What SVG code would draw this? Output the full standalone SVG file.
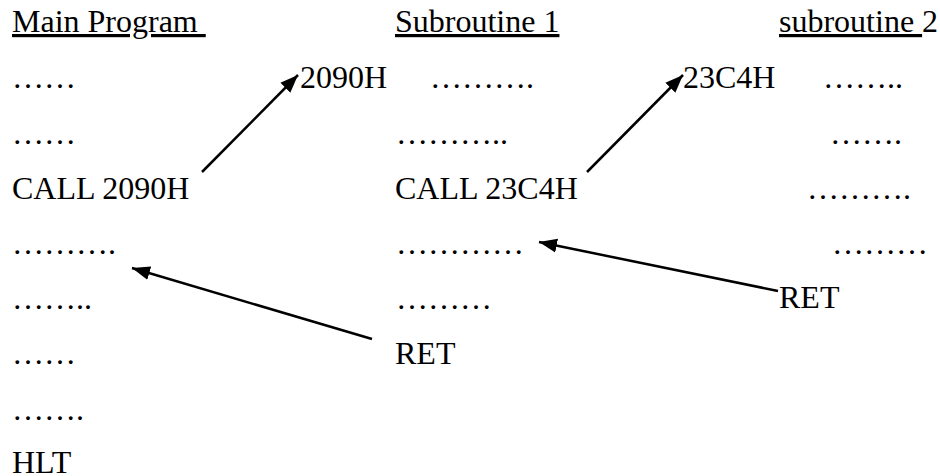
<svg xmlns="http://www.w3.org/2000/svg" width="940" height="476" viewBox="0 0 940 476">
<defs>
<style>
text{font-family:"Liberation Serif","Times New Roman",serif;font-size:32px;fill:#000}
.ul{text-decoration:underline}
.conn line{stroke:#000;stroke-width:2.5;marker-end:url(#ah)}
</style>
<marker id="ah" markerUnits="userSpaceOnUse" markerWidth="20" markerHeight="16" viewBox="0 0 20 16" refX="18" refY="8" orient="auto">
<path d="M0,1 L18,8 L0,15 Z" fill="#000"/>
</marker>
</defs>
<rect width="940" height="476" fill="#fff"/>
<g id="main">
<text x="12" y="32" xml:space="preserve"><tspan class="ul">Main Program </tspan></text>
<text x="12" y="88">……</text>
<text x="12" y="144">……</text>
<text x="12" y="199">CALL 2090H</text>
<text x="12" y="254">……….</text>
<text x="12" y="309">……..</text>
<text x="12" y="364">……</text>
<text x="12" y="420">…….</text>
<text x="12" y="473">HLT</text>
</g>
<g id="sub1">
<text x="395" y="32"><tspan class="ul">Subroutine 1</tspan></text>
<text x="300" y="88">2090H</text>
<text x="430" y="88">……….</text>
<text x="396" y="144">………..</text>
<text x="395" y="199">CALL 23C4H</text>
<text x="396" y="254">…………</text>
<text x="396" y="309">………</text>
<text x="395" y="364">RET</text>
</g>
<g id="sub2">
<text x="779" y="32" xml:space="preserve"><tspan class="ul">subroutine </tspan>2</text>
<text x="683" y="88">23C4H</text>
<text x="823" y="88">……..</text>
<text x="830" y="144">…….</text>
<text x="807" y="199">……….</text>
<text x="832" y="254">………</text>
<text x="779" y="308">RET</text>
</g>
<g class="conn" id="connectors">
<line x1="202" y1="172" x2="298" y2="75"/>
<line x1="587" y1="172" x2="683" y2="75"/>
<line x1="372" y1="339" x2="132" y2="268"/>
<line x1="778" y1="291" x2="539" y2="242"/>
</g>
</svg>
